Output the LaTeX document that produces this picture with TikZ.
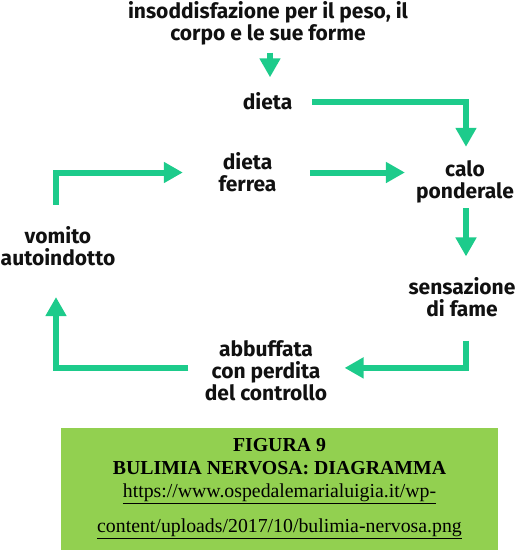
\documentclass[tikz,border=0pt]{standalone}
\usepackage{fontspec}
\setmainfont{Liberation Serif}
\newfontfamily\flowfont{Fira Sans}
\usepackage{xcolor}
\usepackage{tikz}
\usetikzlibrary{positioning,arrows.meta,calc}
\definecolor{BNgreen}{HTML}{1DCB8B}
\definecolor{BNcaption}{HTML}{92D050}
\definecolor{BNtext}{HTML}{111111}
\tikzset{
  flowlabel/.style={align=center, inner sep=0pt, text=BNtext, font=\flowfont\bfseries\fontsize{21}{21.8}\selectfont},
  flowarr/.style={-{Triangle[length=19pt, width=20pt]}, line width=6pt, draw=BNgreen},
  captionbox/.style={fill=BNcaption, draw=none, align=center, inner sep=0pt, minimum width=437pt, minimum height=122pt, font=\fontsize{19.8}{23}\selectfont}
}

\begin{document}
\begin{tikzpicture}[x=1pt, y=-1pt]
\useasboundingbox (0,0) rectangle (519,550);
\node[flowlabel] (top) at (268,23.2) {insoddisfazione per il peso, il\\corpo e le sue forme};
\node[flowlabel] (dieta) at (267.5,101.5) {dieta};
\node[flowlabel] (ferrea) at (247.5,172.5) {dieta\\ferrea};
\node[flowlabel] (calo) at (465,181.5) {calo\\ponderale};
\node[flowlabel] (fame) at (462,297.2) {sensazione\\di fame};
\node[flowlabel] (abbuffata) at (266,370.9) {abbuffata\\con perdita\\del controllo};
\node[flowlabel] (vomito) at (58,246.5) {vomito\\autoindotto};
\draw[flowarr, shorten <=7.4pt, shorten >=15.3pt] ([xshift=2pt]top.south) -- ([xshift=2pt]top.south |- dieta.north);
\draw[flowarr, shorten <=20pt, shorten >=13.3pt] (dieta.east) -| ([xshift=1pt]calo.north);
\draw[flowarr, shorten <=5.3pt, shorten >=21pt] ([xshift=1pt]calo.south) -- ([xshift=1pt]calo.south |- fame.north);
\draw[flowarr, shorten <=23.6pt, shorten >=17.3pt] ([xshift=4pt]fame.south) |- ([yshift=3pt]abbuffata.east);
\draw[flowarr, shorten <=16.3pt, shorten >=30.8pt] ([yshift=3pt]abbuffata.west) -| ([xshift=-2pt]vomito.south);
\draw[flowarr, shorten <=21.8pt, shorten >=35.5pt] ([xshift=-2pt]vomito.north) |- (ferrea.west);
\draw[flowarr, shorten <=33.5pt, shorten >=11pt] (ferrea.east) -- (ferrea.east -| calo.west);
\node[captionbox] (caption) at (279.5,489) {\textbf{FIGURA 9}\\\textbf{BULIMIA NERVOSA: DIAGRAMMA}\\\underline{https://www.ospedalemarialuigia.it/wp-}\\[12pt]\underline{content/uploads/2017/10/bulimia-nervosa.png}};
\end{tikzpicture}
\end{document}
